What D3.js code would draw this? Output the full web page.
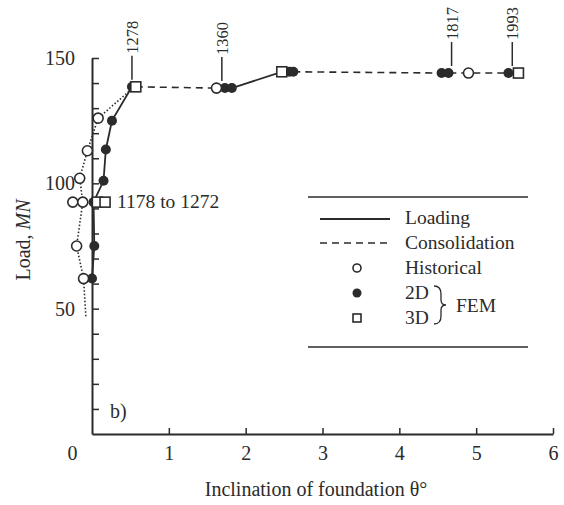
<!DOCTYPE html>
<html>
<head>
<meta charset="utf-8">
<script src="https://cdn.jsdelivr.net/npm/d3@7"></script>
<style>
  body { margin: 0; background: #fff; }
  svg text { font-family: "Liberation Serif", "Times New Roman", serif; fill: #2b2b2b; }
</style>
</head>
<body>
<svg id="vis"></svg>
<script>
// points: [theta (deg), load (MN)]
const historical = [[-0.11, 62], [-0.2, 75], [-0.25, 92.5], [-0.12, 92.5], [-0.16, 102], [-0.06, 113], [0.08, 126], [1.62, 138], [4.9, 144]];
const fem2d = [[0.0, 62], [0.03, 75], [0.02, 92.5], [0.15, 101], [0.18, 113.5], [0.26, 125], [0.52, 138.5], [1.73, 138], [1.82, 138], [2.57, 144.5], [2.62, 144.5], [4.55, 144], [4.64, 144], [5.42, 144]];
const fem3d = [[0.07, 92.5], [0.17, 92.5], [0.57, 138.5], [2.47, 144.5], [5.55, 144]];

// line pieces
const historicalPath = [[-0.08, 47], [-0.11, 62], [-0.2, 75], [-0.12, 92.5], [-0.16, 102], [-0.06, 113], [0.08, 126], [0.55, 138.5]];
const loading1 = [[0.0, 62], [0.03, 75], [0.02, 92.5], [0.15, 101], [0.18, 113.5], [0.26, 125], [0.52, 138.5]];
const consolidation1 = [[0.57, 138.5], [1.62, 138], [1.73, 138]];
const loading2 = [[1.82, 138], [2.47, 144.5]];
const consolidation2 = [[2.62, 144.5], [4.55, 144], [5.55, 144]];

// year annotations
const years = [["1278", 0.52, 138.5], ["1360", 1.69, 138], ["1817", 4.68, 144], ["1993", 5.47, 144]];

const xTicks = [0, 1, 2, 3, 4, 5, 6];
const yTicks = d3.range(10, 151, 10);
const yLabels = [50, 100, 150];

const width = 564, height = 505;
const ink = "#2b2b2b";
const serif = "'Liberation Serif', 'Times New Roman', serif";
const fs = 20;

const svg = d3.select("#vis").attr("width", width).attr("height", height)
  .attr("font-family", serif);

const x = d3.scaleLinear().domain([0, 6]).range([92, 553]);
const y = d3.scaleLinear().domain([0, 150]).range([434, 58]);

// axes
const xAxis = svg.append("g")
  .attr("transform", `translate(0,${y(0)})`)
  .call(d3.axisBottom(x).tickValues(xTicks).tickFormat(d3.format("d"))
    .tickSizeInner(-6).tickSizeOuter(0).tickPadding(12))
  .attr("font-family", serif);
xAxis.select(".domain").attr("stroke", ink).attr("stroke-width", 2);
xAxis.selectAll(".tick line").attr("stroke", ink).attr("stroke-width", 1.5);
xAxis.selectAll(".tick text").attr("font-size", fs).attr("fill", ink)
  .attr("dx", d => d === 0 ? -20 : 0);
xAxis.selectAll(".tick").filter(d => d === 0).select("line").remove();

const yAxis = svg.append("g")
  .attr("transform", `translate(${x(0)},0)`)
  .call(d3.axisLeft(y).tickValues(yTicks).tickSizeInner(-7).tickSizeOuter(0).tickPadding(17)
    .tickFormat(d => yLabels.includes(d) ? d : ""))
  .attr("font-family", serif);
yAxis.select(".domain").attr("stroke", ink).attr("stroke-width", 2);
yAxis.selectAll(".tick line").attr("stroke", ink).attr("stroke-width", 1.5);
yAxis.selectAll(".tick text").attr("font-size", fs).attr("fill", ink);

svg.append("text")
  .attr("x", 316).attr("y", 496)
  .attr("text-anchor", "middle").attr("font-size", fs)
  .text("Inclination of foundation θ°");

const yTitle = svg.append("text")
  .attr("transform", "translate(30,240) rotate(-90)")
  .attr("text-anchor", "middle").attr("font-size", fs);
yTitle.append("tspan").text("Load, ");
yTitle.append("tspan").attr("font-style", "italic").text("MN");

svg.append("text").attr("x", 110).attr("y", 418).attr("font-size", fs).text("b)");

// lines
const line = d3.line().x(d => x(d[0])).y(d => y(d[1]));

svg.append("path").datum(historicalPath).attr("d", line)
  .attr("fill", "none").attr("stroke", ink).attr("stroke-width", 1.6).attr("stroke-dasharray", "1.5,2");
[loading1, loading2].forEach(seg => {
  svg.append("path").datum(seg).attr("d", line)
    .attr("fill", "none").attr("stroke", ink).attr("stroke-width", 1.8);
});
[consolidation1, consolidation2].forEach(seg => {
  svg.append("path").datum(seg).attr("d", line)
    .attr("fill", "none").attr("stroke", ink).attr("stroke-width", 1.6).attr("stroke-dasharray", "7,5");
});

// markers
svg.append("g").selectAll("circle").data(fem2d).join("circle")
  .attr("cx", d => x(d[0])).attr("cy", d => y(d[1])).attr("r", 5)
  .attr("fill", ink);
svg.append("g").selectAll("circle").data(historical).join("circle")
  .attr("cx", d => x(d[0])).attr("cy", d => y(d[1])).attr("r", 5)
  .attr("fill", "#fff").attr("stroke", ink).attr("stroke-width", 1.6);
svg.append("g").selectAll("rect").data(fem3d).join("rect")
  .attr("x", d => x(d[0]) - 5).attr("y", d => y(d[1]) - 5)
  .attr("width", 10).attr("height", 10)
  .attr("fill", "#fff").attr("stroke", ink).attr("stroke-width", 1.6);

// annotations
svg.append("text").attr("x", 117).attr("y", 208).attr("font-size", 19.5).text("1178 to 1272");

const yr = svg.append("g").selectAll("g").data(years).join("g")
  .attr("transform", d => `translate(${x(d[1])},${y(d[2])})`);
yr.append("line").attr("x1", 0).attr("x2", 0).attr("y1", -7).attr("y2", -31)
  .attr("stroke", ink).attr("stroke-width", 1.5);
yr.append("text").attr("transform", "translate(6,-33) rotate(-90)")
  .attr("font-size", 16.5).text(d => d[0]);

// legend
const lg = svg.append("g");
lg.append("line").attr("x1", 308).attr("x2", 528).attr("y1", 197).attr("y2", 197).attr("stroke", ink).attr("stroke-width", 1.5);
lg.append("line").attr("x1", 308).attr("x2", 528).attr("y1", 347).attr("y2", 347).attr("stroke", ink).attr("stroke-width", 1.5);
lg.append("line").attr("x1", 320).attr("x2", 390).attr("y1", 219).attr("y2", 219).attr("stroke", ink).attr("stroke-width", 1.8);
lg.append("line").attr("x1", 320).attr("x2", 390).attr("y1", 243).attr("y2", 243).attr("stroke", ink).attr("stroke-width", 1.6).attr("stroke-dasharray", "7,5");
lg.append("circle").attr("cx", 357).attr("cy", 268).attr("r", 4).attr("fill", "#fff").attr("stroke", ink).attr("stroke-width", 1.6);
lg.append("circle").attr("cx", 357).attr("cy", 293).attr("r", 4.5).attr("fill", ink);
lg.append("rect").attr("x", 353).attr("y", 314).attr("width", 8).attr("height", 8).attr("fill", "#fff").attr("stroke", ink).attr("stroke-width", 1.6);

const legendText = [["Loading", 224], ["Consolidation", 249], ["Historical", 274], ["2D", 299], ["3D", 324]];
lg.selectAll("text.lt").data(legendText).join("text").attr("class", "lt")
  .attr("x", 405).attr("y", d => d[1]).attr("font-size", 19.5).text(d => d[0]);
lg.append("path")
  .attr("d", "M434,286 Q441,286 441,294 L441,300 Q441,305 446,305 Q441,305 441,310 L441,316 Q441,324 434,324")
  .attr("fill", "none").attr("stroke", ink).attr("stroke-width", 1.3);
lg.append("text").attr("x", 456).attr("y", 312).attr("font-size", 19.5).text("FEM");
</script>
</body>
</html>
